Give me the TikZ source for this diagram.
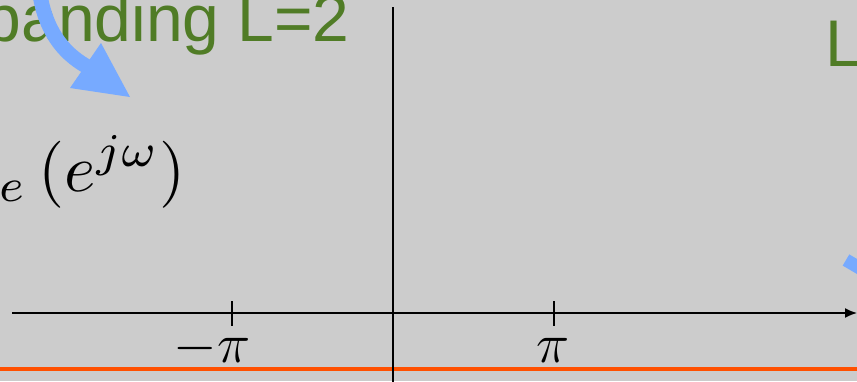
\documentclass[tikz,border=0pt]{standalone}
\usepackage{fontspec}
\newfontfamily\notefont{Liberation Sans}
\usetikzlibrary{arrows.meta}

\definecolor{slidegray}{RGB}{204,204,204}
\definecolor{notegreen}{RGB}{80,124,38}
\definecolor{hintblue}{RGB}{119,170,255}
\definecolor{baseorange}{RGB}{255,80,0}

\tikzset{
    axisline/.style={black, line width=1.6pt},
    tickmark/.style={black, line width=1.1pt},
    upnote/.style={text=notegreen, inner sep=0pt, font=\notefont\fontsize{66}{66}\selectfont},
    mathbig/.style={inner sep=0pt, font=\normalsize, scale=6.7},
    mathtick/.style={inner sep=0pt, anchor=base, font=\Huge, scale=2.25},
    hintstroke/.style={hintblue, line width=15pt},
}

\begin{document}
\begin{tikzpicture}[x=1pt, y=-1pt]
    \useasboundingbox (0,0) rectangle (857,381);
    \fill[slidegray] (0,0) rectangle (857,381);
    \clip (0,0) rectangle (857,381);

    % --- BASE LINE ---
    \draw[baseorange, line width=4pt] (-5,369) -- (865,369);

    % --- AXES ---
    \coordinate (xstart) at (12,313);
    \coordinate (xend) at (857,313);
    \coordinate (ytop) at (393,7);
    \coordinate (ybot) at (393,390);

    \draw[axisline, -{Latex[length=12pt, width=10pt]}] (xstart) -- (xend);
    \draw[axisline] (ybot) -- (ytop);

    % ticks at -pi and pi
    \foreach \x in {232, 554}
        \draw[tickmark] (\x,301) -- (\x,326);

    \node[mathtick] (minuspi) at (212,362) {$-\pi$};
    \node[mathtick] (pluspi) at (553,362) {$\pi$};

    % --- SPECTRUM LABEL ---
    \node[mathbig, anchor=base east] (spectrum) at (187,191) {$X_e\,(e^{j\omega})$};

    % --- NOTES ---
    \node[upnote, anchor=base east] (leftnote) at (350,41) {panding L=2};
    \node[upnote, anchor=base west] (rightnote) at (825,66) {L};

    % The curved hint arrows
    \coordinate (hintfrom) at (40,-5);
    \coordinate (hintbase) at (86,66);
    \draw[hintstroke] (hintfrom) .. controls (46,30) and (62,52) .. (hintbase);
    \fill[hintblue] (70,88) -- (130,97) -- (101,43) -- cycle;

    \coordinate (rhintfrom) at (846,260);
    \coordinate (rhintto) at (880,280);
    \draw[hintstroke, line width=13pt] (rhintfrom) -- (rhintto);
\end{tikzpicture}
\end{document}
